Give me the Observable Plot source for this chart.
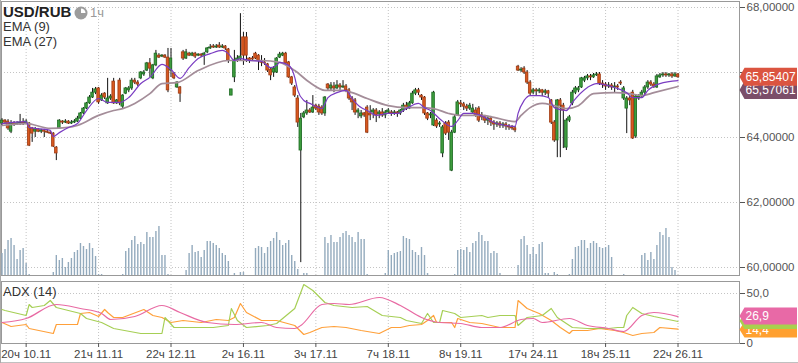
<!DOCTYPE html>
<html><head><meta charset="utf-8">
<script src="https://cdn.jsdelivr.net/npm/d3@7"></script>
<script src="https://cdn.jsdelivr.net/npm/@observablehq/plot@0.6"></script>
<style>
body{margin:0;background:#fff;font-family:"Liberation Sans",Arial,sans-serif;}
#wrap{position:relative;width:798px;height:363px;overflow:hidden;background:#fff;box-shadow:inset 1px 0 0 #aaa, inset 0 -1px 0 #c0c0c0;}
.layer{position:absolute;left:0;}
.t{position:absolute;white-space:nowrap;line-height:1;}
</style></head><body>
<div id="wrap">
  <div id="main" class="layer" style="top:0"></div>
  <div id="vol" class="layer" style="top:0;pointer-events:none"></div>
  <div id="adx" class="layer" style="top:278px"></div>
  <div class="t" style="left:3px;top:4px;font-weight:bold;font-size:15px;color:#222">USD/RUB</div>
  <svg class="t" style="left:73px;top:5px" width="16" height="16"><circle cx="8" cy="8" r="6.5" fill="#9c9c9c"/><path d="M8,8 L8,3.5 A4.5,4.5 0 0 1 12.5,8 Z" fill="#fff"/></svg>
  <div class="t" style="left:90px;top:6px;font-size:13px;color:#9a9a9a">1ч</div>
  <div class="t" style="left:3px;top:20px;font-size:13px;color:#333">EMA (9)</div>
  <div class="t" style="left:3px;top:35px;font-size:13px;color:#333">EMA (27)</div>
  <div class="t" style="left:3px;top:285px;font-size:13px;color:#333">ADX (14)</div>
</div>
<script>
// ---------- data ----------
const open = [
64.43,64.52,64.49,64.18,64.43,64.40,64.43,64.46,64.43,64.43,
64.28,64.18,64.25,64.18,64.22,64.18,64.15,64.12,63.69,64.28,
64.49,64.46,64.49,64.43,64.46,64.49,64.58,64.74,64.89,65.05,
65.23,65.38,65.51,65.14,65.35,65.05,65.20,65.72,65.05,65.75,
64.95,65.35,65.45,65.51,65.75,65.69,65.82,65.94,66.06,66.28,
65.82,66.22,66.52,66.49,66.52,66.46,66.06,65.97,65.54,65.54,
66.62,66.43,66.58,66.52,66.58,66.52,66.55,66.52,66.62,66.74,
66.80,66.77,66.83,66.77,66.80,66.71,65.29,65.85,66.37,66.40,
67.08,67.08,66.43,66.43,66.58,66.52,66.31,66.31,66.25,66.09,
66.00,66.00,66.46,66.52,66.58,66.31,65.85,65.54,65.20,63.60,
64.62,64.74,64.83,64.77,64.98,64.95,64.92,64.74,65.63,65.51,
65.57,65.51,65.60,65.54,65.57,65.45,65.20,65.14,64.77,64.65,
64.74,64.92,64.74,64.77,64.83,64.71,64.77,64.68,64.77,64.77,
64.74,64.77,64.74,64.83,64.98,64.89,65.05,65.35,65.45,65.29,
65.23,64.74,64.68,64.37,64.52,64.40,63.51,64.43,64.46,62.98,
64.15,64.68,65.05,65.02,64.95,64.89,64.77,64.83,64.89,64.68,
64.62,64.52,64.58,64.46,64.40,64.43,64.37,64.40,64.34,64.31,
64.28,66.18,66.06,66.12,66.00,65.69,65.38,65.45,65.42,65.45,
65.38,65.42,65.14,64.46,63.91,65.14,64.98,63.69,64.52,65.05,
65.38,65.45,65.54,65.75,65.82,65.88,65.85,65.91,65.94,65.66,
65.63,65.57,65.60,65.54,65.57,65.69,65.20,64.89,65.20,65.38,
64.03,65.20,65.26,65.38,65.54,65.69,65.63,65.54,65.85,65.91,
65.94,65.91,65.94,65.88,65.94];
const close = [
64.52,64.46,64.28,64.43,64.40,64.43,64.46,64.43,64.49,63.75,
64.12,64.25,64.18,64.22,64.18,64.15,64.12,63.72,63.51,64.52,
64.46,64.49,64.43,64.46,64.49,64.58,64.74,64.89,65.05,65.23,
65.38,65.48,65.08,65.29,65.23,65.20,65.26,65.05,65.14,65.05,
65.29,65.51,65.51,65.75,65.69,65.63,66.00,66.00,66.28,66.12,
66.22,66.58,66.46,66.52,66.46,65.45,66.43,65.82,65.69,65.35,
66.43,66.62,66.52,66.58,66.49,66.55,66.52,66.58,66.74,66.77,
66.77,66.80,66.77,66.80,66.74,66.37,65.48,66.37,66.43,66.49,
66.52,66.52,66.37,66.40,66.43,66.37,66.30,66.28,66.06,65.91,
66.12,66.43,66.55,66.58,66.28,65.85,65.66,65.29,64.46,64.58,
64.74,64.83,64.77,64.92,64.89,64.77,64.74,65.23,65.51,65.60,
65.51,65.60,65.54,65.57,65.45,65.20,65.08,64.77,64.83,64.74,
64.68,64.15,64.68,64.83,64.68,64.77,64.68,64.77,64.83,64.74,
64.77,64.74,64.83,64.98,64.89,65.05,65.35,65.45,65.38,65.23,
64.74,64.58,64.71,65.38,64.34,64.43,64.31,64.12,64.15,64.15,
64.62,65.08,65.02,64.95,64.89,64.98,64.89,64.68,64.52,64.62,
64.52,64.58,64.46,64.40,64.43,64.37,64.40,64.34,64.31,64.28,
64.22,66.06,66.09,66.00,65.69,65.35,65.45,65.42,65.45,65.38,
65.42,65.35,64.46,63.91,65.14,64.98,64.83,64.52,64.62,65.38,
65.51,65.51,65.82,65.82,65.88,65.85,65.91,65.94,65.66,65.63,
65.57,65.60,65.54,65.57,65.54,65.66,65.51,65.20,65.14,63.97,
65.26,65.26,65.38,65.54,65.69,65.63,65.57,65.88,65.91,65.94,
65.91,65.94,65.88,65.94,65.854];
const high = [
64.58,64.55,64.55,64.52,64.49,64.49,64.71,64.58,64.55,64.46,
64.31,64.31,64.28,64.25,64.25,64.22,64.18,64.15,63.72,64.55,
64.52,64.55,64.52,64.52,64.55,64.65,64.77,64.92,65.08,65.29,
65.51,65.54,65.54,65.35,65.38,65.82,65.32,65.82,65.17,65.82,
65.32,65.54,65.57,65.82,65.82,65.75,66.03,66.06,66.31,66.43,
66.25,66.68,66.58,66.55,66.55,66.74,66.74,66.00,65.72,65.57,
66.68,66.71,66.62,66.62,66.62,66.58,66.58,66.62,66.77,66.86,
66.86,66.86,66.92,66.86,66.83,66.74,65.48,66.68,66.52,67.81,
67.23,67.23,66.46,66.49,66.62,66.55,66.52,66.43,66.28,66.12,
66.18,66.46,66.62,66.62,66.62,66.34,65.88,65.60,65.29,64.74,
64.80,65.14,64.89,65.29,65.02,65.02,64.98,65.26,65.66,65.69,
65.69,65.75,65.66,65.75,65.63,65.51,65.26,65.20,64.89,64.83,
64.77,64.98,64.98,64.89,64.89,64.83,64.89,64.83,64.89,64.83,
64.83,64.80,64.86,65.05,65.08,65.11,65.42,65.51,65.51,65.32,
65.26,64.77,64.77,65.42,64.58,64.49,64.37,64.49,64.52,64.22,
64.68,65.14,65.14,65.08,65.02,65.05,65.02,64.92,64.95,64.77,
64.68,64.65,64.65,64.52,64.49,64.49,64.46,64.46,64.40,64.37,
64.34,66.22,66.15,66.18,66.06,65.75,65.51,65.51,65.51,65.48,
65.48,65.45,65.17,64.52,65.17,65.20,65.05,64.58,64.68,65.45,
65.57,65.57,65.85,65.88,65.94,65.94,65.97,66.00,66.00,65.75,
65.69,65.69,65.66,65.69,65.63,65.75,65.57,65.26,65.26,65.45,
65.32,65.32,65.45,65.60,65.75,65.75,65.69,65.94,65.97,66.00,
66.00,65.97,66.00,66.00,65.97];
const low = [
64.37,64.40,64.22,64.12,64.34,64.37,64.37,64.37,64.40,63.72,
63.85,64.00,64.15,64.12,64.00,64.12,64.09,63.69,63.29,64.25,
64.40,64.43,64.40,64.40,64.43,64.46,64.55,64.71,64.86,65.02,
65.20,65.32,65.02,65.11,65.17,65.02,65.14,65.02,65.02,64.98,
64.89,65.32,65.38,65.45,65.63,65.57,65.78,65.88,66.03,65.85,
65.78,66.18,66.43,66.46,66.43,65.38,65.85,65.78,65.51,65.08,
66.37,66.40,66.49,66.49,66.43,66.49,66.46,66.22,66.58,66.71,
66.74,66.74,66.74,66.74,66.68,66.28,65.29,65.69,66.31,66.37,
66.22,66.31,66.28,66.37,66.40,66.06,66.18,66.22,66.00,65.75,
65.85,65.97,66.43,66.49,66.25,65.82,65.60,65.23,64.31,60.15,
64.58,64.68,64.74,64.74,64.83,64.68,64.68,64.65,65.45,65.42,
65.38,65.48,65.45,65.51,65.38,65.14,64.83,64.68,64.58,64.58,
64.62,64.12,64.52,64.58,64.46,64.58,64.62,64.58,64.74,64.65,
64.68,64.62,64.68,64.77,64.83,64.86,65.02,65.29,65.29,65.14,
64.68,64.52,64.58,64.34,64.28,64.31,63.38,64.06,63.91,62.95,
64.12,64.65,64.92,64.83,64.80,64.83,64.74,64.62,64.46,64.52,
64.43,64.37,64.34,64.22,64.31,64.28,64.28,64.22,64.22,64.22,
64.15,66.03,66.00,65.94,65.63,65.29,65.32,65.29,65.35,65.26,
65.29,65.20,64.40,63.85,63.38,63.38,63.66,63.60,64.46,64.98,
65.32,65.38,65.51,65.69,65.75,65.75,65.82,65.88,65.60,65.51,
65.45,65.51,65.45,65.38,65.45,65.60,65.14,64.12,64.98,63.94,
63.97,65.14,65.20,65.32,65.48,65.57,65.51,65.51,65.82,65.85,
65.85,65.85,65.82,65.85,65.82];
const volume = [
22,26,35,37,30,16,25,27,12,1, 0,0,0,0,0,0,0,3,20,15,
17,8,13,17,23,25,32,29,26,32, 27,19,1,1,0,0,0,0,0,0,
1,24,27,35,39,31,33,31,43,38, 38,44,49,20,20,1,0,0,0,0,
0,5,22,30,23,24,18,25,34,34, 32,30,27,22,20,14,0,2,0,3,
3,0,0,0,27,29,28,22,28,34, 37,43,35,30,32,35,20,14,6,0,
2,2,0,0,0,0,0,38,32,40, 33,33,38,42,44,40,38,33,43,36,
36,1,0,0,0,0,0,2,25,20, 22,23,24,39,37,36,25,23,20,28,
20,2,0,0,0,0,0,0,0,0, 1,25,26,25,28,23,32,34,43,40,
34,34,22,24,22,2,0,0,0,0, 0,10,36,39,30,21,28,21,31,33,
2,2,0,3,1,0,0,0,1,16, 28,29,35,35,27,32,34,32,28,27,
28,30,18,0,0,0,1,0,0,0, 0,0,20,22,15,23,16,30,43,40,
47,38,8,5,0];
// EMA readings: [candle index, value]
const ema9 = [[0,64.43],[8,64.49],[9,64.31],[16,64.22],[17,64.03],[19,64.15],[22,64.31],[25,64.43],[28,64.83],[32,65.20],[35,65.08],[39,65.08],[42,65.23],[46,65.66],[49,65.85],[53,66.25],[56,66.09],[59,65.82],[62,66.15],[65,66.43],[69,66.58],[73,66.68],[75,66.58],[77,66.37],[79,66.43],[82,66.37],[86,66.34],[89,66.15],[91,66.22],[92,66.31],[95,66.22],[97,65.85],[98,65.45],[100,65.14],[102,65.05],[105,64.92],[106,64.89],[108,65.23],[111,65.38],[114,65.45],[116,65.20],[119,64.92],[121,64.83],[124,64.68],[128,64.74],[131,64.74],[134,64.89],[138,65.05],[140,64.92],[142,64.83],[145,64.58],[149,64.34],[151,64.52],[153,64.74],[156,64.74],[160,64.62],[163,64.46],[167,64.37],[170,64.34],[171,64.74],[173,65.14],[175,65.29],[178,65.29],[181,65.23],[183,64.92],[187,64.83],[189,65.08],[194,65.54],[197,65.66],[203,65.54],[207,65.38],[209,65.23],[212,65.23],[214,65.45],[218,65.66],[224,65.75]];
const ema27 = [[0,64.37],[8,64.43],[16,64.28],[22,64.31],[25,64.37],[32,64.68],[37,64.83],[40,64.89],[44,65.05],[49,65.35],[53,65.66],[58,65.69],[65,66.06],[75,66.37],[86,66.37],[92,66.31],[97,66.06],[102,65.69],[107,65.45],[113,65.45],[116,65.38],[121,65.20],[128,64.98],[134,64.92],[139,64.92],[143,64.89],[148,64.74],[152,64.68],[159,64.68],[163,64.62],[170,64.49],[172,64.68],[175,64.92],[179,65.05],[183,64.98],[187,64.89],[191,64.98],[196,65.35],[203,65.38],[208,65.35],[212,65.29],[216,65.38],[224,65.57]];
// ADX(14) readings: [candle index, value]
const adxLine = [[0,21],[8,25],[18,39],[26,35],[33,30],[36,24],[44,27],[53,38],[59,31],[68,21],[77,19],[86,21],[91,16],[97,15],[99,18],[106,39],[110,40],[115,39],[125,46],[132,38],[139,26],[145,21],[152,20],[159,16],[165,16],[172,24],[176,25],[179,21],[188,25],[194,18],[201,15],[206,12],[212,28],[216,31],[224,26.9]];
const plusDI = [[0,34],[1,33],[8,28],[9,39],[10,36],[14,38],[16,43],[18,36],[22,33],[26,30],[28,25],[33,21],[37,15],[46,10],[53,10],[54,26],[57,16],[61,16],[70,16],[75,18],[76,35],[78,23],[81,16],[88,18],[91,20],[95,30],[97,35],[100,59],[103,53],[107,41],[110,38],[116,36],[121,37],[126,28],[132,26],[134,23],[139,20],[141,30],[143,21],[145,21],[146,33],[150,30],[152,26],[159,28],[161,26],[165,28],[170,28],[171,18],[174,26],[179,28],[182,35],[184,26],[189,16],[194,15],[201,15],[204,16],[206,16],[207,28],[209,36],[212,30],[216,27],[224,22]];
const minusDI = [[0,21],[3,17],[8,19],[9,15],[17,10],[18,19],[25,19],[26,30],[29,31],[32,27],[34,34],[35,31],[37,26],[40,26],[47,34],[50,28],[53,26],[56,21],[60,23],[66,21],[71,24],[75,23],[77,26],[79,40],[81,31],[86,23],[91,23],[97,18],[100,9],[102,11],[106,16],[110,17],[114,16],[119,13],[123,11],[125,10],[129,16],[132,16],[135,18],[139,19],[141,23],[143,28],[144,21],[149,21],[150,16],[151,25],[155,21],[159,20],[165,16],[170,16],[171,43],[174,35],[178,30],[182,23],[185,16],[188,10],[189,13],[194,13],[198,15],[203,13],[206,11],[209,8],[212,10],[216,11],[218,16],[224,14.4]];
const lastPrice = 65.85407, lastEma27 = 65.57061;
const lastAdx = 26.9, lastPlusDI = 22.0, lastMinusDI = 14.4;
const labelIdx = [8,32,56,80,104,128,152,176,200,224];
const labelText = ["20ч 10.11","21ч 11.11","22ч 12.11","2ч 16.11","3ч 17.11","7ч 18.11","8ч 19.11","17ч 24.11","18ч 25.11","22ч 26.11"];
const priceTicks = [60,62,64,66,68];
const priceTickLabels = [60,62,64,68];   // 66 is hidden under the price tag
const adxTicks = [0,50];

// ---------- build ----------
const candles = close.map((c,i)=>({i, o:open[i], h:high[i], l:low[i], c}));
const up = candles.filter(d=>d.c>=d.o), dn = candles.filter(d=>d.c<d.o);
const vol = volume.map((v,i)=>({i,v})).filter(d=>d.v>0);
const xDomain = [-0.166, 244.37];
const font = "Liberation Sans, Arial, sans-serif";
const grid = {stroke:"#c4c4c4", strokeDasharray:"1,2", strokeWidth:1};
const baseStyle = {background:"transparent", fontFamily:font, fontSize:"11.5px", color:"#555", overflow:"visible"};
const fmtP = d => d.toFixed(5).replace(".", ",");

const main = Plot.plot({
  width:798, height:278, marginLeft:1, marginRight:59, marginTop:1, marginBottom:3,
  style: baseStyle,
  x:{domain:xDomain, axis:null},
  y:{domain:[59.754,68.185], axis:null},
  marks:[
    Plot.ruleY(priceTicks, grid),
    Plot.ruleX(labelIdx, grid),
    Plot.frame({stroke:"#999"}),
    Plot.ruleX(candles, {x:"i", y1:"l", y2:"h", stroke:"#111", strokeWidth:1}),
    Plot.rect(up, {x1:d=>d.i-0.42, x2:d=>d.i+0.42, y1:"o", y2:"c", fill:"#3d9c3d", stroke:"#1c6a22", strokeWidth:0.8}),
    Plot.rect(dn, {x1:d=>d.i-0.42, x2:d=>d.i+0.42, y1:"o", y2:"c", fill:"#d8581f", stroke:"#a03b12", strokeWidth:0.8}),
    Plot.line(ema27, {x:d=>d[0], y:d=>d[1], stroke:"#a48d99", strokeWidth:1.7, curve:"monotone-x"}),
    Plot.line(ema9, {x:d=>d[0], y:d=>d[1], stroke:"#7a3cc2", strokeWidth:1.2, curve:"monotone-x"}),
    Plot.axisY(priceTicks, {anchor:"right", tickSize:5, tickFormat:null, text:null, label:null}),
    Plot.axisY(priceTickLabels, {anchor:"right", tickSize:0, tickPadding:7, tickFormat:fmtP, label:null})
  ]
});
document.getElementById("main").append(main);

const volPlot = Plot.plot({
  width:798, height:278, marginLeft:1, marginRight:59, marginTop:1, marginBottom:3,
  style: baseStyle,
  x:{domain:xDomain, axis:null},
  y:{domain:[0,100], range:[275,175], axis:null},
  marks:[ Plot.ruleX(vol, {x:"i", y1:0, y2:"v", stroke:"#93aabd", strokeWidth:1.4}) ]
});
document.getElementById("vol").append(volPlot);

const adx = Plot.plot({
  width:798, height:85, marginLeft:1, marginRight:59, marginTop:3, marginBottom:20,
  style: baseStyle,
  x:{domain:xDomain},
  y:{domain:[0,62]},
  marks:[
    Plot.ruleY([50], grid),
    Plot.ruleX(labelIdx, grid),
    Plot.frame({stroke:"#999"}),
    Plot.line(minusDI, {x:d=>d[0], y:d=>d[1], stroke:"#ffa03a", strokeWidth:1.2}),
    Plot.line(plusDI, {x:d=>d[0], y:d=>d[1], stroke:"#a6cf55", strokeWidth:1.2}),
    Plot.line(adxLine, {x:d=>d[0], y:d=>d[1], stroke:"#e86aa3", strokeWidth:1.2, curve:"monotone-x"}),
    Plot.axisY(adxTicks, {anchor:"right", tickSize:5, tickPadding:2, tickFormat:d=>d===0?"0":d.toFixed(1).replace(".", ","), label:null}),
    Plot.axisX(labelIdx, {anchor:"bottom", tickSize:4, tickPadding:2, tickFormat:d=>labelText[labelIdx.indexOf(d)], label:null, fill:"#444"})
  ]
});
document.getElementById("adx").append(adx);

// value tags on the right axis, placed with the plots' own y scales
function tag(svg, y, text, color, h=18){
  const x0 = 739.5, x1 = 797;
  const g = d3.select(svg).append("g");
  g.append("path").attr("d", `M${x0},${y} L${x0+5},${y-h/2} L${x1},${y-h/2} L${x1},${y+h/2} L${x0+5},${y+h/2} Z`).attr("fill", color);
  if (text) g.append("text").attr("x", x0+6).attr("y", y).attr("dy","0.36em").attr("fill", "#fff")
    .attr("text-anchor","start").attr("font-family", font).attr("font-size", "12px").text(text);
}
const ym = main.scale("y");
tag(main, ym.apply(lastEma27)+4, fmtP(lastEma27), "#7b4e69");
tag(main, ym.apply(lastPrice), fmtP(lastPrice), "#db5440");
const ya = adx.scale("y");
const f1 = d => d.toFixed(1).replace(".", ",");
tag(adx, ya.apply(lastMinusDI)+1, f1(lastMinusDI), "#ffa030", 16);
tag(adx, ya.apply(lastPlusDI), null, "#a8d04e", 16);
tag(adx, ya.apply(lastAdx), f1(lastAdx), "#e869a6", 17);
</script>
</body></html>
